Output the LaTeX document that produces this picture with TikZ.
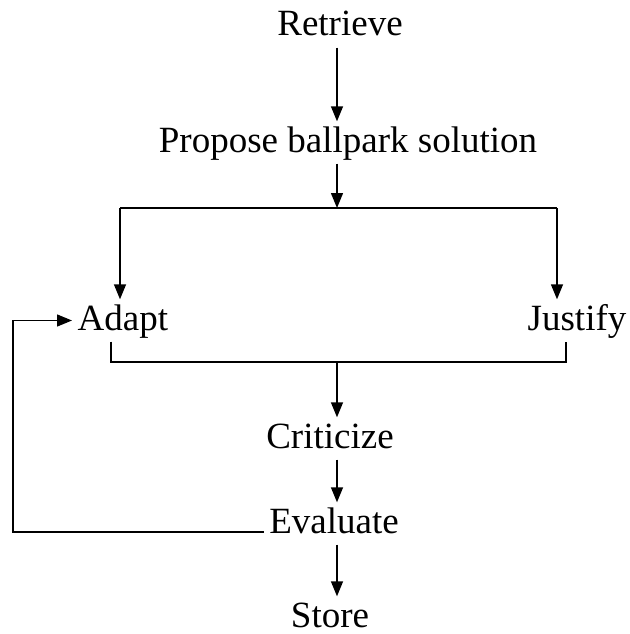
\documentclass[tikz,border=0pt]{standalone}
\usepackage{fontspec}
\setmainfont{Liberation Serif}
\usetikzlibrary{arrows.meta}
\tikzset{
    stage/.style={font=\fontsize{37}{44}\selectfont, text height=28pt, text depth=9pt, inner ysep=2pt, inner xsep=5pt},
    arr/.style={-{Triangle[length=15pt,width=12pt]}},
}
\begin{document}
\begin{tikzpicture}[x=1pt,y=-1pt,line width=1.4pt]
            \useasboundingbox (0,0) rectangle (629,634);
            \node[stage,anchor=base] (ret) at (340,36) {Retrieve};
            \node[stage,anchor=base] (prop) at (348,152) {Propose ballpark solution};
            \node[stage,anchor=base west] (adapt) at (72,330) {Adapt};
            \node[stage,anchor=base west] (just) at (522,330) {Justify};
            \node[stage,anchor=base] (crit) at (330,448) {Criticize};
            \node[stage,anchor=base] (eval) at (334,533) {Evaluate};
            \node[stage,anchor=base] (store) at (330,627) {Store};
            \coordinate (axis) at (337,0);
            \coordinate (split) at (337,208);
            \coordinate (join) at (337,362);
            \coordinate (bl) at (120,208);
            \coordinate (br) at (557,208);
            \coordinate (jl) at (111,362);
            \coordinate (jr) at (566,362);
            \coordinate (fb) at (13,532);
            % main column
            \foreach \a/\b in {ret/prop,crit/eval,eval/store}
                \draw[arr] (axis |- \a.south) -- (axis |- \b.north);
            \draw[arr] (axis |- prop.south) -- (split);
            % fork
            \draw (bl) -- (br);
            \draw[arr] (bl) -- (bl |- adapt.north);
            \draw[arr] (br) -- (br |- just.north);
            % merge
            \draw (jl |- adapt.south) -- (jl) -- (jr) -- (jr |- just.south);
            \draw[arr] (join) -- (axis |- crit.north);
            % loop back
            \draw[arr] (fb -| eval.west) -- (fb) |- (adapt.west);
        \end{tikzpicture}
\end{document}
